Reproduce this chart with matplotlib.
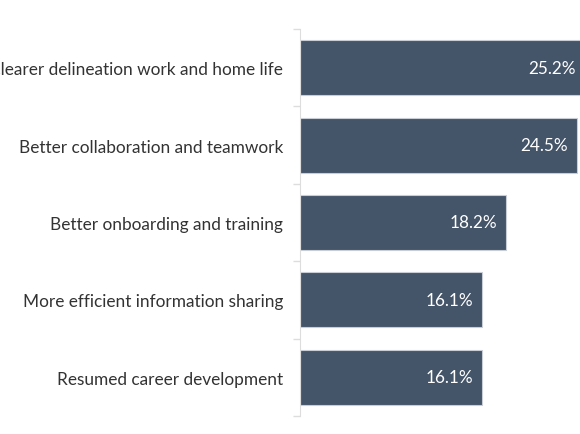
import matplotlib.pyplot as plt
import numpy as np

# dados
labels = ['Clearer delineation work and home life',
          'Better collaboration and teamwork',
          'Better onboarding and training',
          'More efficient information sharing',
          'Resumed career development']
values = [25.2, 24.5, 18.2, 16.1, 16.1]

plt.rcParams['font.family'] = ['Lato', 'DejaVu Sans']

fig = plt.figure(figsize=(5.8, 4.35), dpi=100)
ax = fig.add_axes([300/580, 18/435, 26*11.32/580, 387/435])

y = np.arange(len(labels))
bars = ax.barh(y, values, height=0.71, color='#445469', edgecolor='#c9ced6', linewidth=0.8)

for b, v in zip(bars, values):
    ax.text(v - 0.8, b.get_y() + b.get_height()/2, f'{v}%', ha='right', va='center',
            color='white', fontsize=12.3)

ax.set_xlim(0, 26)
ax.set_ylim(len(labels) - 0.5, -0.5)
ax.set_yticks(y)
ax.set_yticklabels(labels, fontsize=12.4, color='#333333')
ax.tick_params(axis='y', which='major', length=0, pad=12)
ax.set_yticks(np.arange(-0.5, len(labels)), minor=True)
ax.tick_params(axis='y', which='minor', length=5, color='#dddddd', width=1)
ax.set_xticks([])

for s in ['top', 'right', 'bottom']:
    ax.spines[s].set_visible(False)
ax.spines['left'].set_color('#dddddd')

fig.savefig('out.png', dpi=100)
